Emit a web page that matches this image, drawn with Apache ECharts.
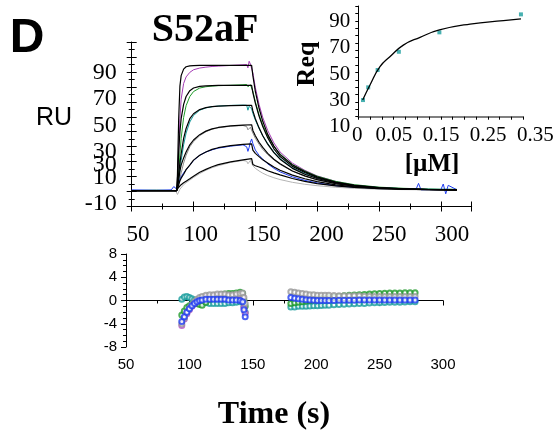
<!DOCTYPE html>
<html>
<head>
<meta charset="utf-8">
<script src="https://cdn.jsdelivr.net/npm/echarts@6.0.0/dist/echarts.min.js"></script>
<style>
html, body { margin: 0; padding: 0; background: #fff; }
#chart { width: 558px; height: 431px; }
</style>
</head>
<body>
<div id="chart"></div>
<script>
// ---- sensorgram: fitted curves (black) ----
const fitTime = [50, 86.4, 87, 88, 89, 90, 92, 94, 97, 100, 105, 110, 115, 120, 130, 140, 147,
  148, 150, 153, 156, 160, 165, 170, 180, 190, 200, 215, 230, 250, 270, 290, 313]
const fitC1 = [0, 0, 12, 55, 80, 88, 93, 94.8, 95.5, 95.7, 95.8, 95.8, 95.8, 95.8, 95.8, 95.8, 95.8,
  88, 76, 63, 53, 43, 34, 27.5, 19.5, 14.5, 10.5, 6.5, 4, 2.2, 1.3, 0.8, 0.5]
const fitC2 = [0, 0, 8, 30, 45, 55, 66, 72, 76.5, 78.5, 79.8, 80.2, 80.4, 80.5, 80.5, 80.5, 80.5,
  75, 67, 57, 49, 40.5, 32, 26, 18.5, 13.8, 10, 6.2, 3.9, 2.1, 1.3, 0.8, 0.5]
const fitC3 = [0, 0, 4, 13, 21, 28, 40, 47.5, 55, 58.8, 62, 63.5, 64.2, 64.6, 65, 65.2, 65.2,
  61, 55, 48, 42, 35.5, 29, 24, 17, 12.5, 9.2, 5.8, 3.6, 2, 1.2, 0.8, 0.5]
const fitC4 = [0, 0, 2.5, 8, 15, 19.5, 25, 29.5, 35, 38.7, 42.8, 45.5, 47.2, 48.3, 49.5, 50.1, 50.4,
  46, 42, 37, 33, 28.5, 24, 20.5, 15, 11.2, 8.3, 5.3, 3.3, 1.9, 1.2, 0.8, 0.5]
const fitC5 = [0, 0, 1.5, 4.5, 7.5, 9.5, 12.5, 16, 19.5, 23.3, 27, 29.5, 31.5, 32.8, 34.4, 35.3, 35.8,
  31, 28.5, 26, 23.5, 21, 18, 15.5, 11.8, 9, 6.8, 4.4, 2.9, 1.7, 1.1, 0.7, 0.5]
const fitC6 = [0, 0, 1, 2.5, 3.5, 4.5, 6, 7.2, 9, 11, 14, 16.2, 18.2, 19.8, 22, 23.5, 24.4,
  20, 19, 18, 17, 15.2, 13.5, 12, 9.2, 7, 5.3, 3.6, 2.5, 1.5, 1, 0.7, 0.5]

// ---- sensorgram: measured curves ----
const dataTime = [50, 70, 82, 84, 86, 87, 88, 89, 90, 92, 94, 97, 100, 105, 110, 115, 120, 130, 140, 143,
  144, 145, 146, 147, 148, 150, 153, 156, 160, 165, 170, 180, 190, 200, 215, 230, 250, 270, 280, 282,
  284, 290, 300, 302, 304, 306, 313]
const dataMagenta = [0, 0, 0, 0, 0, 3, 28, 55, 70, 82, 87, 90.5, 92.5, 93.8, 94.5, 95, 95.3, 95.8, 96.3, 96.5,
  94, 99, 96.8, 96.5, 90, 79, 66, 56, 46, 36.5, 29.5, 21, 15.5, 11.2, 7, 4.3, 2.4, 1.5, 1.2, 1.2,
  1.1, 1, 0.8, 0.8, 0.8, 0.8, 0.7]
const dataGreen = [0, 0.3, 0, 0, 0, 2, 12, 28, 40, 56, 65, 72, 75.8, 78.5, 79.5, 80, 80.3, 80.6, 81, 81.2,
  79.5, 80.5, 81, 80.8, 76, 68, 58, 50, 42, 34, 28, 20, 15, 11, 7, 4.5, 2.6, 1.7, 1.4, 1.4,
  1.3, 1.2, 1, 1, 1, 1, 0.9]
const dataTeal = [0, 0, 0, 0, 0, 1.5, 8, 16, 23, 35, 44, 52.5, 57.5, 61.5, 63.3, 64.2, 64.7, 65.2, 65.4, 65.3,
  61.5, 64.5, 63, 62.5, 59, 54, 47.5, 42, 36, 29.5, 24.5, 17.5, 13, 9.5, 6, 3.8, 2.2, 1.4, 1.2, 1.2,
  1.1, 1, 0.9, 0.9, 0.9, 0.9, 0.8]
const dataGray = [0, 0, 0, 0, 0, 0.5, 4, 9, 13.5, 21, 27, 33.5, 37.5, 42, 45, 47, 48, 49.3, 49.8, 49,
  46.5, 47.5, 48.5, 48, 44, 40, 35.5, 31.5, 27.5, 23.5, 20, 14.8, 11, 8.2, 5.3, 3.4, 2, 1.2, 1, 1,
  1, 0.8, 0.7, 0.7, 0.7, 0.7, 0.6]
const dataBlue = [0.5, 0.2, 0.5, 3, 1.5, 3, 6, 8.5, 10.5, 13.5, 16, 19.5, 23, 27, 29.5, 31.2, 32.5, 34, 35, 33.5,
  30, 33, 37, 39.5, 36, 31, 27, 24, 20.5, 17, 14.3, 10.5, 7.8, 5.8, 3.7, 2.4, 1.4, 0.9, 1, 5.5,
  0.5, 0.6, 0.5, 5, -2.5, 4, 0.6]
const dataLightGray = [0, 0, 0, 0, -1, -3, -1, 1, 2.5, 4.5, 6, 8, 10, 13, 15.5, 17.5, 19, 21.5, 23, 22.5,
  20.5, 21.5, 23, 22.5, 19, 17, 15, 13.3, 11.5, 9.8, 8.4, 6.3, 4.8, 3.7, 2.5, 1.7, 1, 0.7, 0.6, 0.6,
  0.6, 0.5, 0.4, 0.4, 0.4, 0.4, 0.4]

// y tick labels of the sensorgram as printed in the figure
const ruTickValues = [-10, 10, 20, 30, 50, 70, 90]
const ruTickText = ['-10', '10', '30', '30', '50', '70', '90']

// ---- residuals ----
const resTimeAssoc = [94, 96, 98, 100, 102, 104, 106, 108, 110, 113, 116, 119, 122, 125, 128, 131, 134, 137, 140, 142, 143, 144]
const resAssocMagenta = [-4.3, -3.2, -2.3, -1.6, -1, -0.5, -0.1, 0.2, 0.4, 0.6, 0.7, 0.8, 0.8, 0.8, 0.8, 0.8, 0.8, 0.8, 0.8, 0.6, -1.2, -2.2]
const resAssocGray = [-4, -3, -2, -1.3, -0.7, -0.2, 0.2, 0.5, 0.7, 0.9, 1, 1, 1.1, 1.1, 1.1, 1, 1, 1.1, 1.2, 1.3, 0.5, -0.5]
const resAssocBlue = [-3.6, -2.8, -2, -1.4, -0.9, -0.5, -0.2, 0, 0.1, 0.2, 0.2, 0.2, 0.2, 0.2, 0.2, 0.1, 0.1, 0.1, 0, -0.2, -1.6, -2.8]
const resAssocTeal = [0.2, 0.6, 0.7, 0.5, 0.3, 0.1, -0.1, -0.3, -0.4, -0.4, -0.5, -0.5, -0.5, -0.5, -0.5, -0.4, -0.4, -0.3, -0.2, 0, -1, -2]
const resAssocGreen = [-2.5, -1.8, -1.2, -0.9, -0.7, -0.6, -0.5, -0.7, -0.8, -0.3, 0.2, 0.5, 0.8, 1, 1.1, 1.2, 1.2, 1.3, 1.4, 1.2, 0, -1]

const resTimeDiss = [180, 183, 186, 189, 192, 195, 198, 201, 204, 207, 210, 214, 218, 222, 226, 230, 234, 238, 242, 246, 250, 254, 258, 262, 266, 270, 274, 278]
const resDissGray = [1.5, 1.4, 1.3, 1.2, 1.1, 1.0, 1.0, 0.9, 0.9, 0.9, 0.9, 0.85, 0.8, 0.8, 0.8, 0.8, 0.8, 0.75, 0.75, 0.7, 0.7, 0.7, 0.7, 0.7, 0.7, 0.7, 0.7, 0.7]
const resDissBlue = [0.5, 0.4, 0.3, 0.2, 0.15, 0.1, 0.05, 0, 0, 0, 0, 0, 0.05, 0.05, 0.05, 0.05, 0.1, 0.1, 0.1, 0.1, 0.1, 0.1, 0.1, 0.1, 0.1, 0.1, 0.1, 0.1]
const resDissTeal = [-1.1, -1.1, -1.0, -1.0, -1.0, -0.95, -0.9, -0.9, -0.85, -0.8, -0.8, -0.75, -0.7, -0.65, -0.6, -0.55, -0.5, -0.5, -0.45, -0.4, -0.4, -0.35, -0.3, -0.3, -0.3, -0.25, -0.2, -0.2]
const resDissGreen = [-0.5, -0.4, -0.3, -0.2, -0.1, 0, 0.1, 0.2, 0.3, 0.4, 0.5, 0.6, 0.7, 0.8, 0.9, 0.95, 1.0, 1.05, 1.1, 1.15, 1.2, 1.25, 1.3, 1.3, 1.3, 1.35, 1.35, 1.35]
const resZeroTime = [50, 300]
const resZeroValue = [0, 0]

// ---- inset: Req vs concentration ----
const reqConc = [0.010, 0.021, 0.041, 0.086, 0.172, 0.345]
const reqValue = [30.3, 40.0, 53.2, 67.1, 81.9, 95.6]
const reqFitConc = [0.0093, 0.0248, 0.046, 0.067, 0.0955, 0.131, 0.172, 0.237, 0.308, 0.345]
const reqFitValue = [30.3, 41.8, 55.7, 63.3, 72.2, 78.1, 83.7, 88.2, 90.8, 92.1]
const reqTickValues = [10, 30, 50, 70, 90]
const concTickValues = [0, 0.05, 0.15, 0.25, 0.35]
const concTickText = ['0', '0.05', '0.15', '0.25', '0.35']

const zip = (xs, ys) => xs.map((x, i) => [x, ys[i]])
const SERIF = 'Liberation Serif'
const SANS = 'Liberation Sans'

const curveColors = ['#a43cb4', '#1f9a2a', '#169c9c', '#8c8c8c', '#1f3cf0', '#b4b4b4']
const dataCurves = [dataMagenta, dataGreen, dataTeal, dataGray, dataBlue, dataLightGray]
const fitCurves = [fitC1, fitC2, fitC3, fitC4, fitC5, fitC6]

const series = []
dataCurves.forEach((vals, i) => series.push({
  type: 'line', xAxisIndex: 3, yAxisIndex: 2, data: zip(dataTime, vals),
  showSymbol: false, lineStyle: { width: 1, color: curveColors[i] }, z: 2
}))
fitCurves.forEach(vals => series.push({
  type: 'line', xAxisIndex: 3, yAxisIndex: 2, data: zip(fitTime, vals),
  showSymbol: false, lineStyle: { width: 1.2, color: '#000' }, z: 3
}))
series.push({
  type: 'line', xAxisIndex: 4, yAxisIndex: 4, data: zip(resZeroTime, resZeroValue),
  showSymbol: false, lineStyle: { width: 1, color: '#000' }, z: 1
})
const residualSets = [
  ['#169c9c', zip(resTimeAssoc, resAssocTeal).concat(zip(resTimeDiss, resDissTeal))],
  ['#1f9a2a', zip(resTimeAssoc, resAssocGreen).concat(zip(resTimeDiss, resDissGreen))],
  ['#b050c0', zip(resTimeAssoc, resAssocMagenta)],
  ['#999999', zip(resTimeAssoc, resAssocGray).concat(zip(resTimeDiss, resDissGray))],
  ['#1f3cf0', zip(resTimeAssoc, resAssocBlue).concat(zip(resTimeDiss, resDissBlue))]
]
residualSets.forEach(([color, pts]) => series.push({
  type: 'scatter', xAxisIndex: 4, yAxisIndex: 4, data: pts,
  symbol: 'emptyCircle', symbolSize: 5, itemStyle: { color: color, borderColor: color, borderWidth: 1.3 }, z: 2
}))
series.push({
  type: 'line', xAxisIndex: 6, yAxisIndex: 6, data: zip(reqFitConc, reqFitValue),
  smooth: true, showSymbol: false, lineStyle: { width: 1.3, color: '#000' }
})
series.push({
  type: 'scatter', xAxisIndex: 6, yAxisIndex: 6, data: zip(reqConc, reqValue),
  symbol: 'rect', symbolSize: 4, itemStyle: { color: '#1a9e9e' }
})

const hidden = (grid, min, max) => ({ gridIndex: grid, show: false, min, max })
const lineBlack = { show: true, lineStyle: { color: '#000', width: 1 } }

const option = {
  animation: false,
  backgroundColor: '#fff',
  grid: [
    { left: 131.7, top: 42, width: 340, height: 164.5 },    // main frame
    { left: 131.7, top: 46.9, width: 340, height: 156.7 },  // main data
    { left: 138, top: 42, width: 314, height: 164.5 },      // main time labels
    { left: 126, top: 254, width: 317, height: 93 },        // residuals
    { left: 358.3, top: 6, width: 165, height: 110.7 },     // inset frame
    { left: 358.3, top: 8.6, width: 165, height: 118.1 },   // inset data
    { left: 352, top: 6, width: 165, height: 110.7 }        // inset conc labels
  ],
  xAxis: [
    { gridIndex: 0, type: 'value', position: 'bottom', min: 50, max: 325, interval: 50,
      axisLine: lineBlack, axisTick: { show: true, length: 5, lineStyle: { color: '#000' } },
      minorTick: { show: true, splitNumber: 2, length: 3, lineStyle: { color: '#000' } },
      axisLabel: { show: false }, splitLine: { show: false } },
    { gridIndex: 0, type: 'value', position: 'bottom', min: 50, max: 325, interval: 50,
      axisLine: { show: false }, axisTick: { show: true, inside: true, length: 5, lineStyle: { color: '#000' } },
      minorTick: { show: true, splitNumber: 2, length: 3, lineStyle: { color: '#000' } },
      axisLabel: { show: false }, splitLine: { show: false } },
    { gridIndex: 2, type: 'value', position: 'bottom', min: 50, max: 300, interval: 50,
      axisLine: { show: false }, axisTick: { show: false }, splitLine: { show: false },
      axisLabel: { color: '#000', fontFamily: SERIF, fontSize: 23, margin: 17 } },
    hidden(1, 50, 325),
    { gridIndex: 3, type: 'value', min: 50, max: 300, interval: 50,
      axisLine: lineBlack, axisTick: { show: true, length: 5, lineStyle: { color: '#000' } },
      minorTick: { show: true, splitNumber: 2, length: 3, lineStyle: { color: '#000' } },
      splitLine: { show: false },
      axisLabel: { color: '#000', fontFamily: SANS, fontSize: 15, margin: 10 } },
    { gridIndex: 4, type: 'value', min: 0, max: 0.35, interval: 0.025,
      axisLine: { show: true, lineStyle: { color: '#555', width: 1.5 } },
      axisTick: { show: true, length: 3, lineStyle: { color: '#000' } },
      axisLabel: { show: false }, splitLine: { show: false } },
    hidden(5, 0, 0.35),
    { gridIndex: 6, type: 'value', min: 0, max: 0.35, interval: 0.05,
      axisLine: { show: false }, axisTick: { show: false }, splitLine: { show: false },
      axisLabel: { color: '#000', fontFamily: SERIF, fontSize: 21, margin: 8, align: 'left',
        formatter: v => { const i = concTickValues.findIndex(t => Math.abs(t - v) < 1e-6); return i < 0 ? '' : concTickText[i] } } }
  ],
  yAxis: [
    { gridIndex: 0, type: 'value', position: 'left', min: 0, max: 22, interval: 2,
      axisLine: lineBlack, axisTick: { show: true, length: 5, lineStyle: { color: '#000' } },
      minorTick: { show: true, splitNumber: 2, length: 3, lineStyle: { color: '#000' } },
      axisLabel: { show: false }, splitLine: { show: false } },
    { gridIndex: 0, type: 'value', position: 'left', min: 0, max: 22, interval: 2,
      axisLine: { show: false }, axisTick: { show: true, inside: true, length: 5, lineStyle: { color: '#000' } },
      minorTick: { show: true, splitNumber: 2, length: 3, lineStyle: { color: '#000' } },
      axisLabel: { show: false }, splitLine: { show: false } },
    { gridIndex: 1, type: 'value', min: -10, max: 110, interval: 10,
      axisLine: { show: false }, axisTick: { show: false }, splitLine: { show: false },
      axisLabel: { color: '#000', fontFamily: SERIF, fontSize: 24, margin: 15,
        formatter: v => { const i = ruTickValues.indexOf(v); return i < 0 ? '' : ruTickText[i] } } },
    hidden(2, 0, 1),
    { gridIndex: 3, type: 'value', min: -8, max: 8, interval: 4,
      axisLine: lineBlack, axisTick: { show: true, length: 5, lineStyle: { color: '#000' } },
      minorTick: { show: true, splitNumber: 4, length: 3, lineStyle: { color: '#000' } },
      splitLine: { show: false },
      axisLabel: { color: '#000', fontFamily: SANS, fontSize: 15, margin: 9 } },
    { gridIndex: 4, type: 'value', min: 0, max: 15, interval: 1,
      axisLine: lineBlack, axisTick: { show: true, length: 3, lineStyle: { color: '#000' } },
      axisLabel: { show: false }, splitLine: { show: false } },
    { gridIndex: 5, type: 'value', min: 10, max: 100, interval: 10,
      axisLine: { show: false }, axisTick: { show: false }, splitLine: { show: false },
      axisLabel: { color: '#000', fontFamily: SERIF, fontSize: 21, margin: 8,
        formatter: v => reqTickValues.indexOf(v) < 0 ? '' : String(v) } },
    hidden(6, 0, 1)
  ],
  graphic: [
    { type: 'text', x: 27, y: 39, style: { text: 'D', font: 'bold 48px ' + SANS, fill: '#000', align: 'center', verticalAlign: 'middle' } },
    { type: 'text', x: 205, y: 31, style: { text: 'S52aF', font: 'bold 40px ' + SERIF, fill: '#000', align: 'center', verticalAlign: 'middle' } },
    { type: 'text', x: 54, y: 118, style: { text: 'RU', font: '25px ' + SANS, fill: '#000', align: 'center', verticalAlign: 'middle' } },
    { type: 'text', x: 307, y: 64, rotation: Math.PI / 2, style: { text: 'Req', font: 'bold 26px ' + SERIF, fill: '#000', align: 'center', verticalAlign: 'middle' } },
    { type: 'text', x: 432, y: 165, style: { text: '[µM]', font: 'bold 25px ' + SERIF, fill: '#000', align: 'center', verticalAlign: 'middle' } },
    { type: 'text', x: 274, y: 415, style: { text: 'Time (s)', font: 'bold 32px ' + SERIF, fill: '#000', align: 'center', verticalAlign: 'middle' } }
  ],
  series: series
}

const chart = echarts.init(document.getElementById('chart'))
chart.setOption(option)
</script>
</body>
</html>
